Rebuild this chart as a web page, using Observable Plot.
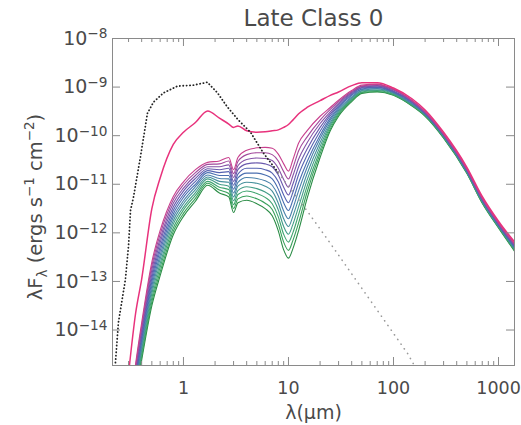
<!DOCTYPE html>
<html><head><meta charset="utf-8">
<script src="https://cdn.jsdelivr.net/npm/d3@7"></script>
<script src="https://cdn.jsdelivr.net/npm/@observablehq/plot@0.6"></script>
<style>body{margin:0;background:#fff}</style>
</head><body><div id="chart"></div>
<script>
// wavelength grid (micron) shared by the model SEDs
const wavelengths = [0.3,0.35,0.4,0.5,0.6,0.8,1.0,1.3,1.7,2.2,2.7,3.0,3.3,4,5,6,7,8,9,10,11,12.5,15,20,25,30,40,50,70,100,150,200,300,500,700,1000,1500];

// log10(lambda F_lambda) of the highest (magenta) model
const magentaLogFlux = [-14.9,-13.66,-12.95,-11.5,-10.87,-10.18,-9.93,-9.73,-9.49,-9.64,-9.76,-9.83,-9.80,-9.90,-9.93,-9.92,-9.90,-9.88,-9.83,-9.77,-9.68,-9.55,-9.42,-9.28,-9.17,-9.10,-8.97,-8.91,-8.91,-9.02,-9.24,-9.47,-9.93,-10.65,-11.25,-11.76,-12.25];

// log10(lambda F_lambda) of the bundle of models, top (purple) to bottom (green)
const bundleLogFlux = [
  [-15.9,-14.7,-13.85,-12.6,-11.95,-11.25,-10.95,-10.70,-10.55,-10.52,-10.45,-10.70,-10.45,-10.30,-10.25,-10.24,-10.26,-10.38,-10.58,-10.73,-10.50,-10.15,-9.90,-9.60,-9.42,-9.27,-9.07,-8.96,-8.94,-9.04,-9.27,-9.50,-9.96,-10.68,-11.28,-11.79,-12.28],
  [-15.93,-14.76,-13.92,-12.68,-12.03,-11.32,-11.01,-10.76,-10.59,-10.58,-10.52,-10.78,-10.53,-10.39,-10.35,-10.35,-10.39,-10.52,-10.74,-10.89,-10.67,-10.31,-10.03,-9.68,-9.46,-9.30,-9.09,-8.98,-8.95,-9.05,-9.28,-9.51,-9.97,-10.69,-11.29,-11.80,-12.30],
  [-15.95,-14.82,-13.99,-12.76,-12.12,-11.39,-11.08,-10.82,-10.64,-10.64,-10.60,-10.86,-10.62,-10.49,-10.46,-10.47,-10.51,-10.67,-10.90,-11.06,-10.83,-10.48,-10.15,-9.75,-9.51,-9.33,-9.11,-8.99,-8.97,-9.06,-9.29,-9.52,-9.98,-10.70,-11.30,-11.81,-12.31],
  [-15.98,-14.88,-14.06,-12.85,-12.20,-11.47,-11.14,-10.88,-10.68,-10.70,-10.67,-10.94,-10.70,-10.58,-10.56,-10.58,-10.64,-10.81,-11.06,-11.22,-11.00,-10.64,-10.28,-9.83,-9.55,-9.36,-9.13,-9.01,-8.98,-9.08,-9.30,-9.53,-9.98,-10.71,-11.31,-11.82,-12.33],
  [-16.01,-14.94,-14.13,-12.93,-12.29,-11.54,-11.21,-10.94,-10.72,-10.76,-10.74,-11.02,-10.79,-10.67,-10.67,-10.70,-10.77,-10.95,-11.22,-11.38,-11.17,-10.80,-10.41,-9.91,-9.59,-9.39,-9.15,-9.02,-9.00,-9.09,-9.31,-9.54,-9.99,-10.72,-11.32,-11.83,-12.34],
  [-16.04,-15.00,-14.20,-13.01,-12.37,-11.61,-11.27,-11.00,-10.76,-10.82,-10.82,-11.10,-10.87,-10.77,-10.77,-10.81,-10.89,-11.10,-11.38,-11.54,-11.33,-10.97,-10.54,-9.99,-9.64,-9.42,-9.17,-9.04,-9.01,-9.10,-9.32,-9.55,-10.00,-10.73,-11.33,-11.84,-12.36],
  [-16.06,-15.05,-14.27,-13.09,-12.46,-11.68,-11.34,-11.05,-10.81,-10.88,-10.89,-11.18,-10.96,-10.86,-10.88,-10.93,-11.02,-11.24,-11.55,-11.71,-11.50,-11.13,-10.66,-10.06,-9.68,-9.45,-9.20,-9.05,-9.03,-9.11,-9.34,-9.55,-10.00,-10.73,-11.34,-11.85,-12.37],
  [-16.09,-15.11,-14.34,-13.17,-12.54,-11.75,-11.40,-11.11,-10.85,-10.94,-10.96,-11.26,-11.04,-10.96,-10.98,-11.04,-11.14,-11.39,-11.71,-11.87,-11.66,-11.30,-10.79,-10.14,-9.73,-9.48,-9.22,-9.07,-9.04,-9.12,-9.35,-9.56,-10.01,-10.74,-11.35,-11.86,-12.39],
  [-16.12,-15.17,-14.41,-13.25,-12.63,-11.82,-11.47,-11.17,-10.89,-11.00,-11.04,-11.34,-11.13,-11.05,-11.09,-11.16,-11.27,-11.53,-11.87,-12.03,-11.83,-11.46,-10.92,-10.22,-9.77,-9.51,-9.24,-9.08,-9.06,-9.13,-9.36,-9.57,-10.02,-10.75,-11.36,-11.87,-12.40],
  [-16.15,-15.23,-14.48,-13.34,-12.71,-11.90,-11.53,-11.23,-10.94,-11.06,-11.11,-11.42,-11.21,-11.14,-11.19,-11.27,-11.40,-11.67,-12.03,-12.19,-12.00,-11.62,-11.05,-10.30,-9.81,-9.54,-9.26,-9.10,-9.07,-9.15,-9.37,-9.58,-10.03,-10.76,-11.37,-11.88,-12.42],
  [-16.17,-15.29,-14.55,-13.42,-12.80,-11.97,-11.60,-11.29,-10.98,-11.12,-11.19,-11.50,-11.30,-11.24,-11.30,-11.39,-11.52,-11.82,-12.19,-12.36,-12.16,-11.79,-11.17,-10.37,-9.86,-9.57,-9.28,-9.11,-9.09,-9.16,-9.38,-9.59,-10.04,-10.77,-11.38,-11.89,-12.43],
  [-16.2,-15.35,-14.62,-13.5,-12.88,-12.04,-11.66,-11.35,-11.02,-11.18,-11.26,-11.58,-11.38,-11.33,-11.40,-11.50,-11.65,-11.96,-12.35,-12.52,-12.33,-11.95,-11.30,-10.45,-9.90,-9.60,-9.30,-9.13,-9.10,-9.17,-9.39,-9.60,-10.05,-10.78,-11.39,-11.90,-12.45]
];
const bundleColors = ["#c8408e","#a24a9c","#8452a6","#6a5aad","#5563b1","#4a6fb0","#4a80aa","#46909c","#429c86","#3fa46e","#38a05a","#2a8c45"];
const magentaColor = "#e8327c";

// stellar photosphere (dotted)
const starWavelengths = [0.225,0.24,0.28,0.30,0.313,0.334,0.389,0.454,0.518,0.645,0.877,1.245,1.69,2.11,2.62,3.34,4.35,5.78,8,10,15.2,25.1,51.8,136,160];
const starLogFlux = [-14.67,-13.85,-12.96,-12.26,-11.54,-11.27,-10.44,-9.54,-9.31,-9.12,-8.98,-8.96,-8.90,-9.12,-9.41,-9.68,-9.93,-10.36,-10.76,-11.04,-11.56,-12.22,-13.19,-14.48,-14.75];

const xTickValues = [1,10,100,1000];
const yTickExponents = [-8,-9,-10,-11,-12,-13,-14];
const titleText = "Late Class 0";
const xLabelText = "λ(μm)";

// ---- build tables
const toRows = (ws, logs) => ws.map((w, i) => ({lambda: w, flux: Math.pow(10, logs[i])}));
const starRows = toRows(starWavelengths, starLogFlux);
const yTicks = yTickExponents.map(e => Math.pow(10, e));
const minorX = [0.1,1,10,100].flatMap(d => [2,3,4,5,6,7,8,9].map(m => +(m*d).toPrecision(3)));

const W = 521, H = 425, mL = 112, mR = 7, mT = 38, mB = 60;
const fw = W - mL - mR, fh = H - mT - mB;
const axisGray = "#8a8a8a";
const textGray = "#4a4a4a";

const marks = [];
for (let k = bundleLogFlux.length - 1; k >= 0; k--) {
  marks.push(Plot.line(toRows(wavelengths, bundleLogFlux[k]), {x: "lambda", y: "flux", stroke: bundleColors[k], strokeWidth: 1.1, clip: true, curve: "monotone-x"}));
}
marks.push(Plot.line(toRows(wavelengths, magentaLogFlux), {x: "lambda", y: "flux", stroke: magentaColor, strokeWidth: 1.5, clip: true, curve: "monotone-x"}));
marks.push(Plot.line(starRows.slice(0, 19), {x: "lambda", y: "flux", stroke: "#222", strokeWidth: 1.8, strokeDasharray: "0.2,3.2", strokeLinecap: "round", clip: true}));
marks.push(Plot.line(starRows.slice(18), {x: "lambda", y: "flux", stroke: "#999", strokeWidth: 1.6, strokeDasharray: "0.2,5.5", strokeLinecap: "round", clip: true}));

// frame and inward ticks
marks.push(Plot.frame({stroke: axisGray, strokeWidth: 1}));
marks.push(Plot.ruleX(xTickValues, {x: d => d, insetTop: fh - 8, stroke: axisGray}));
marks.push(Plot.ruleX(xTickValues, {x: d => d, insetBottom: fh - 8, stroke: axisGray}));
marks.push(Plot.ruleX(minorX.filter(v => v > 0.211 && v < 1420), {x: d => d, insetTop: fh - 4, stroke: axisGray}));
marks.push(Plot.ruleX(minorX.filter(v => v > 0.211 && v < 1420), {x: d => d, insetBottom: fh - 4, stroke: axisGray}));
marks.push(Plot.ruleY(yTicks, {y: d => d, insetRight: fw - 8, stroke: axisGray}));
marks.push(Plot.ruleY(yTicks, {y: d => d, insetLeft: fw - 8, stroke: axisGray}));

// tick labels
marks.push(Plot.axisX(xTickValues, {tickSize: 0, tickPadding: 16, tickFormat: d => String(d), fontSize: 17.5, label: null, color: textGray}));
marks.push(Plot.axisY(yTicks, {tickSize: 0, tickPadding: 5, tickFormat: d => "10^" + Math.round(Math.log10(d)), fontSize: 19, label: null, color: textGray}));

// title and x label
marks.push(Plot.text([titleText], {text: d => d, frameAnchor: "top", lineAnchor: "middle", dy: -20, fontSize: 23, fill: textGray}));
marks.push(Plot.text([xLabelText], {text: d => d, frameAnchor: "bottom", lineAnchor: "middle", dy: 47, fontSize: 19, fill: textGray}));

const plot = Plot.plot({
  width: W, height: H,
  marginLeft: mL, marginRight: mR, marginTop: mT, marginBottom: mB,
  style: {fontFamily: "'DejaVu Sans', sans-serif", background: "#fff", color: textGray},
  x: {type: "log", domain: [0.211, 1420], label: null},
  y: {type: "log", domain: [Math.pow(10, -14.73), 1e-8], label: null},
  marks
});

const svg = d3.select(plot);
// superscript exponents on y tick labels
svg.selectAll('g[aria-label="y-axis tick label"] text').each(function () {
  const exp = this.textContent.split("^")[1].replace("-", "−");
  const t = d3.select(this);
  t.text(null);
  t.append("tspan").text("10");
  t.append("tspan").attr("dy", "-0.45em").attr("font-size", "0.72em").text(exp);
});
// rotated y axis label with sub/superscripts
const yl = svg.append("text")
  .attr("transform", "translate(42,207) rotate(-90)")
  .attr("text-anchor", "middle").attr("font-size", 19.5).attr("fill", textGray)
  .attr("font-family", "'DejaVu Sans', sans-serif");
yl.append("tspan").text("λF");
yl.append("tspan").attr("font-size", 13.5).attr("dy", 5).text("λ");
yl.append("tspan").attr("dy", -5).text(" (ergs s");
yl.append("tspan").attr("font-size", 13.5).attr("dy", -8).text("−1");
yl.append("tspan").attr("dy", 8).text(" cm");
yl.append("tspan").attr("font-size", 13.5).attr("dy", -8).text("−2");
yl.append("tspan").attr("dy", 8).text(")");

document.getElementById("chart").appendChild(plot);
</script>
</body></html>
